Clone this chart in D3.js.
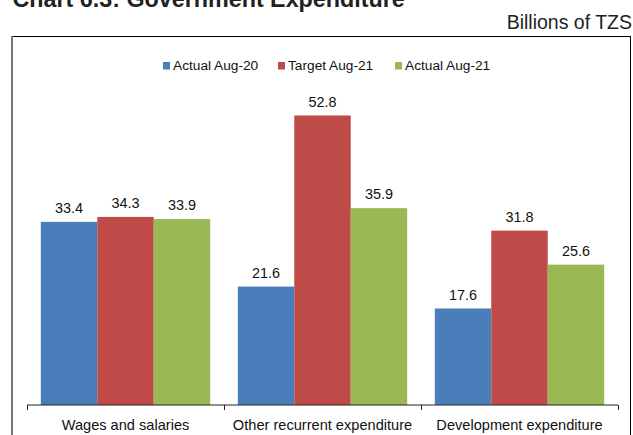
<!DOCTYPE html>
<html>
<head>
<meta charset="utf-8">
<script src="https://cdn.jsdelivr.net/npm/d3@7/dist/d3.min.js"></script>
<style>
  html, body { margin: 0; padding: 0; background: #fff; }
  svg { display: block; font-family: "Liberation Sans", Arial, sans-serif; }
</style>
</head>
<body>
<svg id="chart" width="633" height="435"></svg>
<script>
// Government expenditure by category, billions of TZS
const categories = ["Wages and salaries", "Other recurrent expenditure", "Development expenditure"];
const seriesNames = ["Actual Aug-20", "Target Aug-21", "Actual Aug-21"];
const actualAug20 = [33.4, 21.6, 17.6];
const targetAug21 = [34.3, 52.8, 31.8];
const actualAug21 = [33.9, 35.9, 25.6];
const seriesColors = ["#4A7EBB", "#BE4B48", "#98B954"];

const seriesValues = [actualAug20, targetAug21, actualAug21];
const rows = categories.map((c, i) => ({
  category: c,
  values: seriesNames.map((s, j) => ({ series: s, value: seriesValues[j][i], color: seriesColors[j] }))
}));

const svg = d3.select("#chart");

// Title (partly above the top edge) and unit note
svg.append("text")
  .attr("x", 12.5).attr("y", 7)
  .attr("font-size", 23.3).attr("font-weight", "bold").attr("fill", "#222")
  .text("Chart 6.3: Government Expenditure");

svg.append("text")
  .attr("x", 632).attr("y", 29)
  .attr("text-anchor", "end")
  .attr("font-size", 19.5).attr("fill", "#222")
  .text("Billions of TZS");

// Chart frame
svg.append("line").attr("x1", 11).attr("x2", 631).attr("y1", 36.5).attr("y2", 36.5)
  .attr("stroke", "#000").attr("stroke-width", 1);
svg.append("line").attr("x1", 630.5).attr("x2", 630.5).attr("y1", 36).attr("y2", 435)
  .attr("stroke", "#000").attr("stroke-width", 1);
svg.append("line").attr("x1", 12).attr("x2", 12).attr("y1", 36).attr("y2", 435)
  .attr("stroke", "#777").attr("stroke-width", 2);

// Scales
const x0 = d3.scaleBand().domain(categories).range([27, 618]).paddingInner(0).paddingOuter(0);
const groupPad = 13.8;
const x1 = d3.scaleBand().domain(seriesNames).range([groupPad, x0.bandwidth() - groupPad]).padding(0);
const y = d3.scaleLinear().domain([0, 60]).range([405, 76]);

// Bars
const groups = svg.append("g").selectAll("g").data(rows).join("g")
  .attr("transform", d => `translate(${x0(d.category)},0)`);

groups.selectAll("rect").data(d => d.values).join("rect")
  .attr("x", d => x1(d.series))
  .attr("y", d => y(d.value))
  .attr("width", x1.bandwidth())
  .attr("height", d => y(0) - y(d.value))
  .attr("fill", d => d.color);

// Value labels
groups.selectAll("text.val").data(d => d.values).join("text")
  .attr("class", "val")
  .attr("x", d => x1(d.series) + x1.bandwidth() / 2)
  .attr("y", d => y(d.value) - 8.7)
  .attr("text-anchor", "middle")
  .attr("font-size", 14.4).attr("fill", "#111")
  .text(d => d.value.toFixed(1));

// Category axis
const xAxis = d3.axisBottom(x0).tickSize(0).tickPadding(0);
const axisG = svg.append("g").attr("transform", `translate(0,${y(0)})`).call(xAxis);
axisG.select(".domain").attr("stroke", "#222").attr("d", `M27,0H618`);
axisG.selectAll(".tick text")
  .attr("y", 24.5)
  .attr("dy", null)
  .attr("font-size", 14.6)
  .attr("font-family", "Liberation Sans, Arial, sans-serif")
  .attr("fill", "#111");

// Category separators
const bounds = categories.map(c => x0(c)).concat([x0.range()[1]]);
axisG.selectAll("line.sep").data(bounds).join("line")
  .attr("class", "sep")
  .attr("x1", d => d + 0.5).attr("x2", d => d + 0.5)
  .attr("y1", 0).attr("y2", 5)
  .attr("stroke", "#222");

// Legend
const legendItems = [
  { name: seriesNames[0], color: seriesColors[0], x: 163 },
  { name: seriesNames[1], color: seriesColors[1], x: 278 },
  { name: seriesNames[2], color: seriesColors[2], x: 395 }
];
const legend = svg.append("g").selectAll("g").data(legendItems).join("g")
  .attr("transform", d => `translate(${d.x},62)`);
legend.append("rect")
  .attr("x", 0).attr("y", 0).attr("width", 7).attr("height", 7.5)
  .attr("fill", d => d.color);
legend.append("text")
  .attr("x", 10).attr("y", 8)
  .attr("font-size", 13.7).attr("fill", "#111")
  .text(d => d.name);
</script>
</body>
</html>
